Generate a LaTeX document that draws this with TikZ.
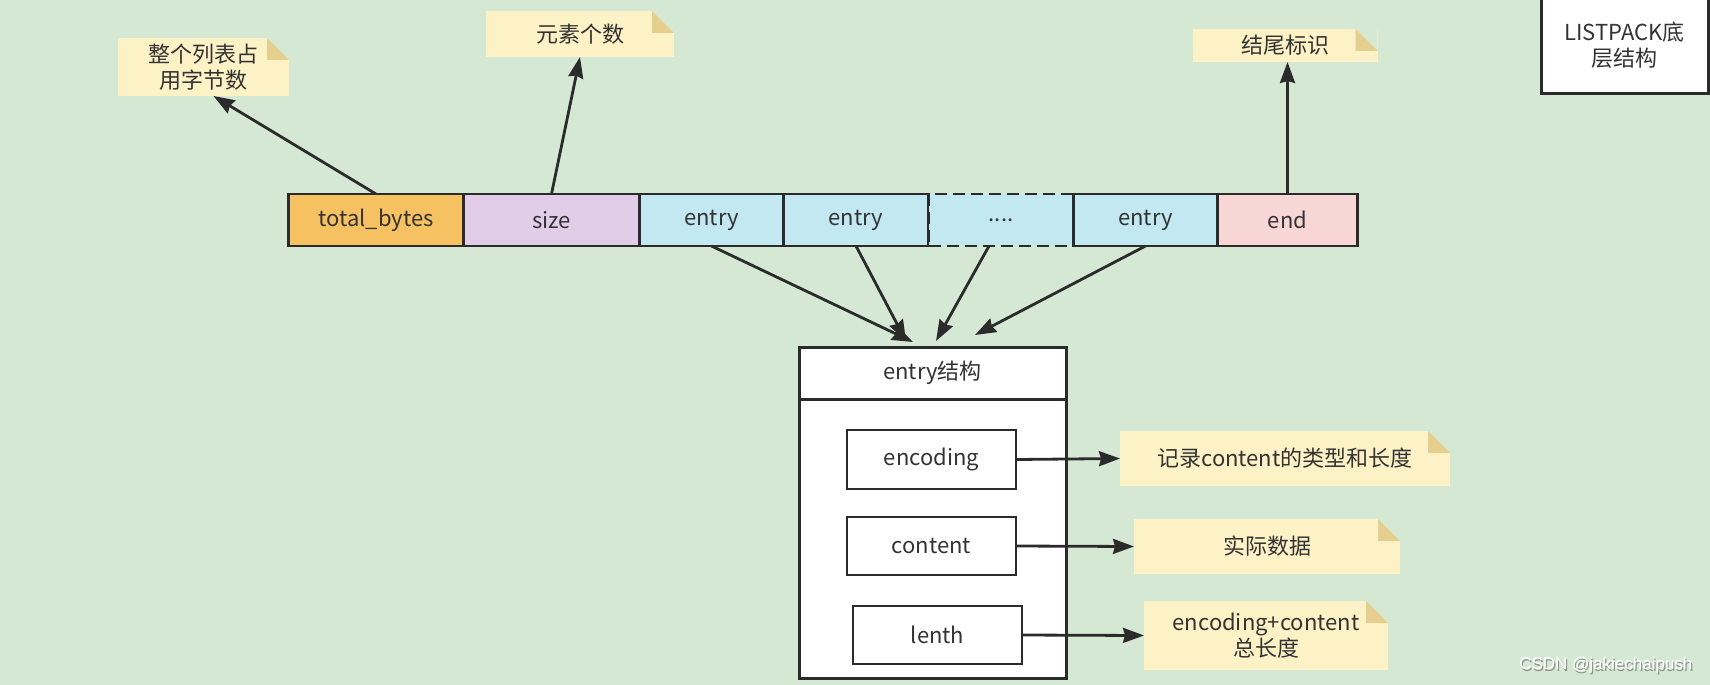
\documentclass[tikz,border=0pt]{standalone}
\usepackage{fontspec}
\setmainfont{Noto Sans CJK SC}
\newfontfamily\markfont{Liberation Sans}
\usetikzlibrary{positioning,arrows.meta}

\definecolor{bggreen}{HTML}{D5E8D4}
\definecolor{linec}{HTML}{2B2B2B}
\definecolor{textc}{HTML}{333333}
\definecolor{tbfill}{HTML}{F6C160}
\definecolor{szfill}{HTML}{E1CDE8}
\definecolor{entfill}{HTML}{C2E8F2}
\definecolor{endfill}{HTML}{F8D6D6}
\definecolor{notey}{HTML}{FCF2C6}
\definecolor{foldc}{HTML}{E4CF8E}
\definecolor{markshade}{HTML}{8E968E}

\newcommand{\marktext}[1]{\makebox[0pt][l]{\hspace{1.2pt}\raisebox{-1.2pt}{\textcolor{markshade}{#1}}}\textcolor{white}{#1}}

\tikzset{
  cell/.style={draw=linec, line width=2.5pt, minimum height=52pt, outer sep=0pt,
    inner sep=0pt, text=textc},
  notebox/.style={fill=notey, inner sep=0pt, outer sep=0pt, align=center, text=textc,
    path picture={
      \fill[bggreen] ([xshift=-22pt]path picture bounding box.north east)
        -- (path picture bounding box.north east)
        -- ([yshift=-22pt]path picture bounding box.north east) -- cycle;
      \fill[foldc] ([xshift=-22pt]path picture bounding box.north east)
        -- ([xshift=-22pt,yshift=-22pt]path picture bounding box.north east)
        -- ([yshift=-22pt]path picture bounding box.north east) -- cycle;}},
  arr/.style={draw=linec, line width=2.8pt,
    -{Stealth[length=21pt,width=15pt,inset=2pt]}}
}

\begin{document}
\begin{tikzpicture}[x=1pt,y=-1pt,font=\fontsize{22}{26}\selectfont]
\fill[bggreen] (0,0) rectangle (1710,685);
\useasboundingbox (0,0) rectangle (1710,685);

% the listpack row
\node[cell, fill=tbfill, minimum width=175pt] (tb) at (376,220) {total\_bytes};
\node[cell, fill=szfill, minimum width=176pt, right=0pt of tb] (sz) {size};
\node[cell, fill=entfill, minimum width=144pt, right=0pt of sz] (e1) {entry};
\node[cell, fill=entfill, minimum width=145pt, right=0pt of e1] (e2) {entry};
\node[cell, fill=entfill, minimum width=145pt, right=0pt of e2,
  dash pattern=on 12pt off 6pt] (dots) {....};
\node[cell, fill=entfill, minimum width=144pt, right=0pt of dots] (e3) {entry};
\node[cell, fill=endfill, minimum width=140pt, right=0pt of e3] (end) {end};

% notes on top
\node[notebox, minimum width=171pt, minimum height=58pt] (nt) at (203.5,67) {整个列表占\\用字节数};
\node[notebox, minimum width=188pt, minimum height=46pt] (ns) at (580,34) {元素个数};
\node[notebox, minimum width=185pt, minimum height=33pt] (ne) at (1285,45.5) {结尾标识};

\draw[arr] (tb.north) -- ([xshift=10pt]nt.south);
\draw[arr] (sz.north) -- (ns.south);
\draw[arr] (end.north) -- (end.north |- ne.south);

% title box
\node[cell, fill=white, line width=3pt, minimum width=167pt, minimum height=96pt,
  align=center] (title) at (1624.5,45) {LISTPACK底\\层结构};

% entry structure
\node[cell, fill=white, line width=3pt, minimum width=267pt] (head) at (932.5,373) {entry结构};
\node[cell, fill=white, line width=3pt, minimum width=267pt, minimum height=279pt,
  below=0pt of head] (body) {};
\node[cell, fill=white, minimum width=169pt, minimum height=59pt] (enc) at (931.5,459.5) {encoding};
\node[cell, fill=white, minimum width=169pt, minimum height=58pt] (cont) at (931.5,546) {content};
\node[cell, fill=white, minimum width=169pt, minimum height=58pt] (len) at (937.5,635) {lenth};

\coordinate (t1) at (913,342);
\coordinate (t2) at (906,341);
\coordinate (t3) at (936,341);
\coordinate (t4) at (975,335);
\draw[arr] (e1.south) -- (t1);
\draw[arr] (e2.south) -- (t2);
\draw[arr] ([xshift=-12pt]dots.south) -- (t3);
\draw[arr] (e3.south) -- (t4);

% notes on the right
\node[notebox, minimum width=330pt, minimum height=55pt] (n1) at (1285,458.5) {记录content的类型和长度};
\node[notebox, minimum width=266pt, minimum height=55pt] (n2) at (1267,546.5) {实际数据};
\node[notebox, minimum width=244pt, minimum height=69pt] (n3) at (1266,635.5) {encoding+content\\总长度};

\draw[arr] (enc.east) -- (n1.west);
\draw[arr] (cont.east) -- (n2.west);
\draw[arr] (len.east) -- (n3.west);

\node[font=\markfont\fontsize{17}{20}\selectfont, anchor=east] (mark) at (1696,666) {\marktext{CSDN @jakiechaipush}};
\end{tikzpicture}
\end{document}
